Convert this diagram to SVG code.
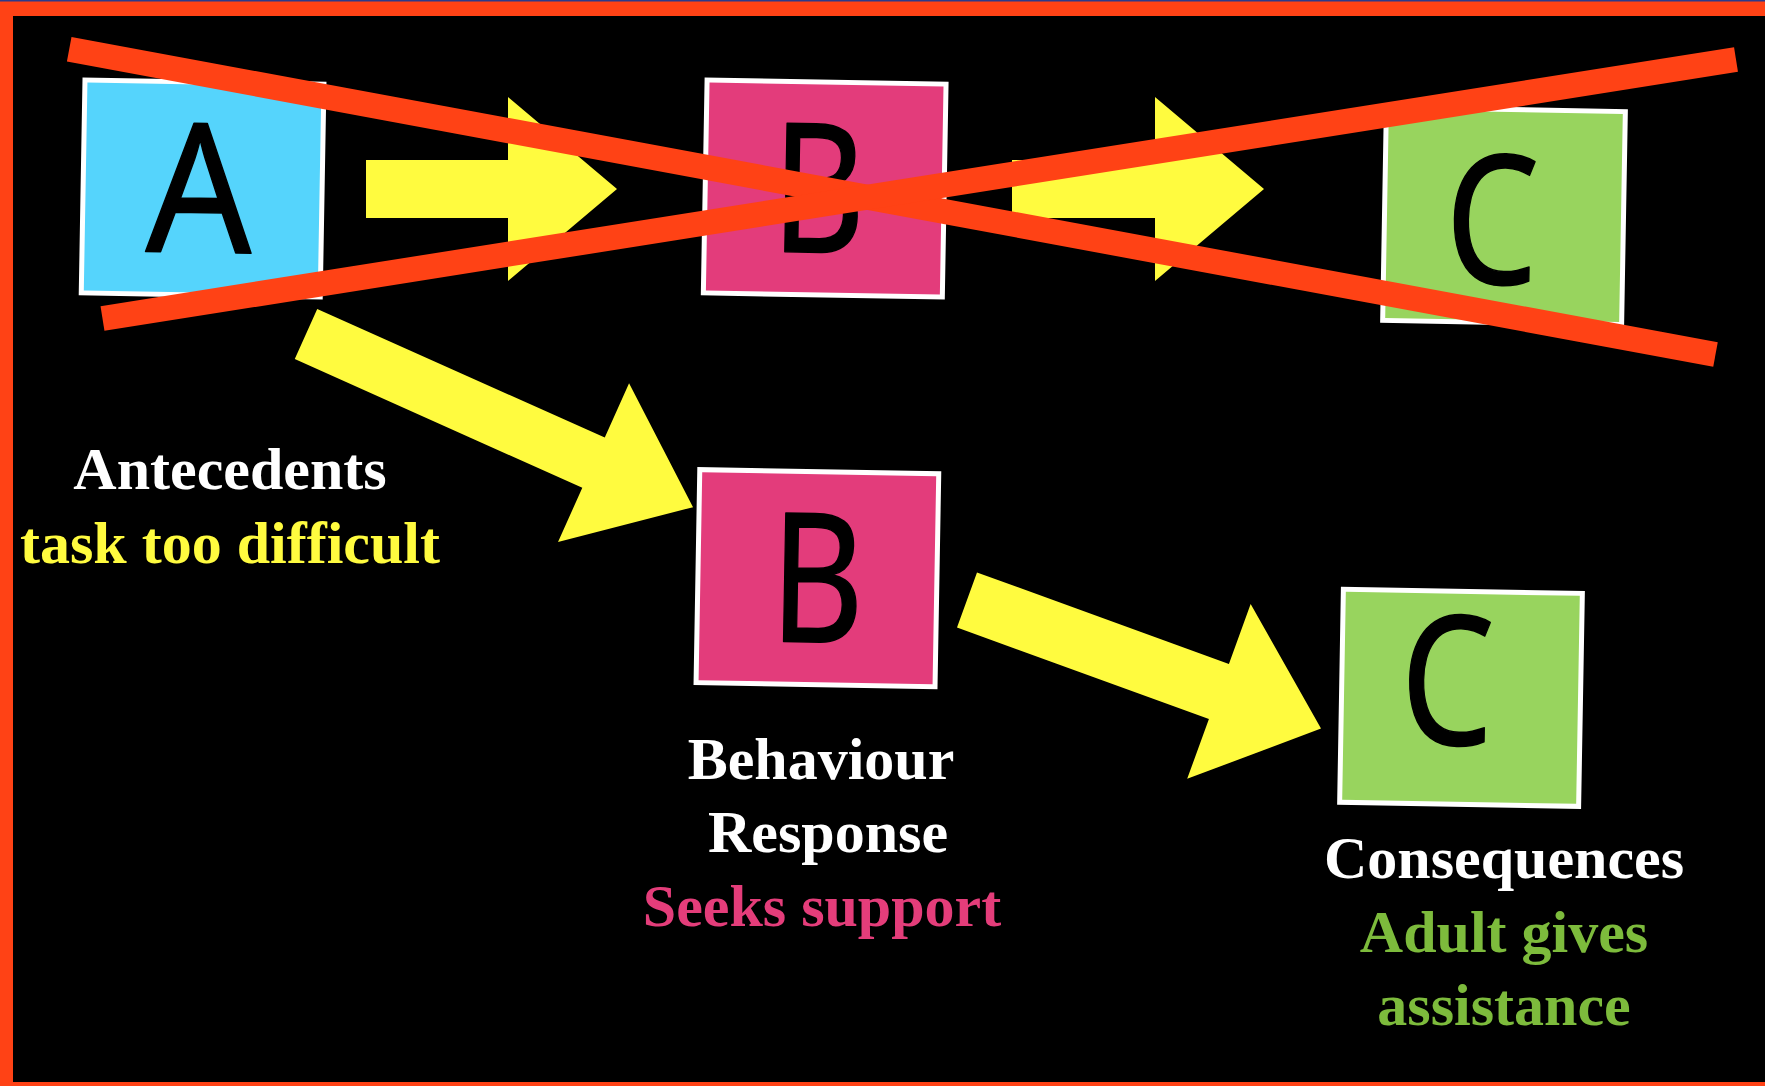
<svg xmlns="http://www.w3.org/2000/svg" width="1765" height="1086" viewBox="0 0 1765 1086">
  <defs>
    <style>
      .card { stroke: #FFFFFF; stroke-width: 5; }
      .card-a { fill: #55D4FC; }
      .card-b { fill: #E33C7B; }
      .card-c { fill: #98D45E; }
      .letter { font-family: "Noto Sans", "DejaVu Sans", sans-serif; font-size: 180px; font-weight: 400; fill: #000000; stroke: #000000; stroke-width: 1.5; stroke-linejoin: round; text-anchor: middle; }
      .arrow { fill: #FFFB3F; }
      .strike { stroke: #FF4215; stroke-width: 25; stroke-linecap: butt; fill: none; }
      .label { font-family: "Liberation Serif", "Times New Roman", serif; font-size: 60px; font-weight: bold; text-anchor: middle; }
      .white { fill: #FFFFFF; }
      .yellow { fill: #FFFB3F; }
      .pink { fill: #E43D7A; }
      .green { fill: #7DBB3C; }
    </style>
  </defs>

  <!-- frame -->
  <rect x="0" y="0" width="1765" height="1086" fill="#FF4215"/>
  <rect x="0" y="0" width="1765" height="1.5" fill="#2B3A8C"/>
  <rect x="13" y="16" width="1752" height="1066" fill="#000000"/>

  <!-- first chain: A -> B -> C (crossed out) -->
  <g id="node-a">
    <g transform="translate(202.6 188.5) rotate(1)">
      <rect class="card card-a" x="-119.5" y="-106.5" width="239" height="213"/>
      <text class="letter" transform="translate(-3 64) scale(0.92 1)">A</text>
    </g>
  </g>
  <g id="node-b-top">
    <g transform="translate(824.7 188.5) rotate(1)">
      <rect class="card card-b" x="-119.5" y="-106.5" width="239" height="213"/>
      <text class="letter" transform="translate(-6 64) scale(0.8 1)">B</text>
    </g>
  </g>
  <g id="node-c-top">
    <g transform="translate(1504 216) rotate(1)">
      <rect class="card card-c" x="-119.5" y="-106.5" width="239" height="213"/>
      <text class="letter" transform="translate(-12 68) scale(0.82 1)">C</text>
    </g>
  </g>

  <!-- second chain: B -> C -->
  <g id="node-b">
    <g transform="translate(817.4 578.2) rotate(1)">
      <rect class="card card-b" x="-119.5" y="-106.5" width="239" height="213"/>
      <text class="letter" transform="translate(0 64) scale(0.8 1)">B</text>
    </g>
  </g>
  <g id="node-c">
    <g transform="translate(1461 697.8) rotate(1)">
      <rect class="card card-c" x="-119.5" y="-106.5" width="239" height="213"/>
      <text class="letter" transform="translate(-14 47) scale(0.82 1)">C</text>
    </g>
  </g>

  <!-- connectors -->
  <g id="connectors">
    <polygon class="arrow" transform="translate(366 189)" points="0,-29 142,-29 142,-92 251,0 142,92 142,29 0,29"/>
    <polygon class="arrow" transform="translate(1012 189)" points="0,-29 143,-29 143,-92 252,0 143,92 143,29 0,29"/>
    <polygon class="arrow" transform="translate(306 334) rotate(24.1)" points="0,-27.5 315,-27.5 315,-87 424,0 315,87 315,27.5 0,27.5"/>
    <polygon class="arrow" transform="translate(967 600) rotate(19.95)" points="0,-29.3 268,-29.3 268,-93 376.6,0 268,93 268,29.3 0,29.3"/>
  </g>

  <!-- cross-out over the first chain -->
  <g id="strike-through">
    <line class="strike" x1="69.2" y1="49.2" x2="1715.5" y2="354.5"/>
    <line class="strike" x1="102.5" y1="318.5" x2="1736" y2="59.5"/>
  </g>

  <!-- labels -->
  <g id="label-antecedents" class="label">
    <text class="white" x="230" y="489">Antecedents</text>
    <text class="yellow" x="230" y="563">task too difficult</text>
  </g>
  <g id="label-behaviour" class="label">
    <text class="white" x="821" y="779">Behaviour</text>
    <text class="white" x="828" y="852">Response</text>
    <text class="pink" x="822" y="926">Seeks support</text>
  </g>
  <g id="label-consequences" class="label">
    <text class="white" x="1504" y="878">Consequences</text>
    <text class="green" x="1504" y="952">Adult gives</text>
    <text class="green" x="1504" y="1025">assistance</text>
  </g>
</svg>
